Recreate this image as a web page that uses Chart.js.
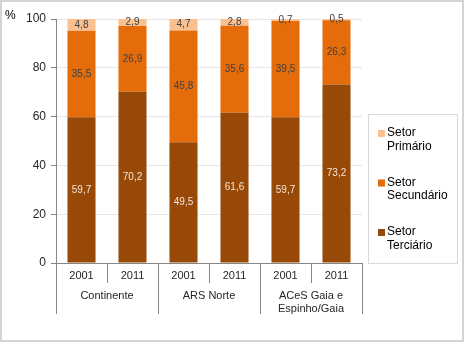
<!DOCTYPE html>
<html>
<head>
<meta charset="utf-8">
<script src="https://cdn.jsdelivr.net/npm/chart.js@4/dist/chart.umd.min.js"></script>
<style>
  html, body { margin: 0; padding: 0; background: #fff; }
  canvas { display: block; }
</style>
</head>
<body>
<canvas id="myChart" width="464" height="342"></canvas>
<script>
const years = ['2001', '2011', '2001', '2011', '2001', '2011'];
const groups = [['Continente'], ['ARS Norte'], ['ACeS Gaia e', 'Espinho/Gaia']];
const terciario = [59.7, 70.2, 49.5, 61.6, 59.7, 73.2];
const secundario = [35.5, 26.9, 45.8, 35.6, 39.5, 26.3];
const primario = [4.8, 2.9, 4.7, 2.8, 0.7, 0.5];
const yTicks = [0, 20, 40, 60, 80, 100];

const FONT = "'Liberation Sans', Arial, sans-serif";
const fmt = v => v.toFixed(1).replace('.', ',');

// datasets bottom -> top
const series = [
  { label: 'Setor Terciário', data: terciario, color: '#984807', text: '#f6e4d8' },
  { label: 'Setor Secundário', data: secundario, color: '#e46c0a', text: '#404040' },
  { label: 'Setor Primário', data: primario, color: '#fac090', text: '#404040' }
];

const extras = {
  id: 'extras',
  beforeDraw(chart) {
    const ctx = chart.ctx;
    ctx.save();
    ctx.fillStyle = '#fff';
    ctx.fillRect(0, 0, chart.width, chart.height);
    ctx.restore();
  },
  afterDraw(chart) {
    const ctx = chart.ctx;
    const x = chart.scales.x;
    const area = chart.chartArea;
    ctx.save();

    // value labels inside the segments
    ctx.font = '10px ' + FONT;
    ctx.textAlign = 'center';
    ctx.textBaseline = 'middle';
    series.forEach((s, i) => {
      const meta = chart.getDatasetMeta(i);
      meta.data.forEach((bar, j) => {
        const c = bar.getCenterPoint();
        ctx.fillStyle = s.text;
        ctx.fillText(fmt(s.data[j]), c.x, c.y);
      });
    });

    // category dividers under the axis
    ctx.strokeStyle = '#868686';
    ctx.lineWidth = 1;
    const step = (x.right - x.left) / years.length;
    for (let i = 0; i <= years.length; i++) {
      const px = Math.round(x.left + i * step) + 0.5;
      const len = i % 2 === 0 ? 51 : 20;
      ctx.beginPath();
      ctx.moveTo(px, area.bottom);
      ctx.lineTo(px, area.bottom + len);
      ctx.stroke();
    }

    // group names
    ctx.fillStyle = '#262626';
    ctx.font = '11px ' + FONT;
    groups.forEach((g, i) => {
      const cx = x.left + (i * 2 + 1) * step;
      g.forEach((line, k) => ctx.fillText(line, cx, area.bottom + 33 + k * 13));
    });

    // unit
    ctx.font = '12px ' + FONT;
    ctx.textAlign = 'left';
    ctx.fillStyle = '#000';
    ctx.fillText('%', 5, 16);

    // legend box
    ctx.strokeStyle = '#d9d9d9';
    ctx.strokeRect(368.5, 114.5, 89, 149);
    ctx.font = '12px ' + FONT;
    [...series].reverse().forEach((s, i) => {
      const y0 = 133 + i * 49.5;
      ctx.fillStyle = s.color;
      ctx.fillRect(378, y0 - 3, 7, 7);
      ctx.fillStyle = '#000';
      s.label.split(' ').forEach((w, k) => ctx.fillText(w, 387, y0 + k * 13.5));
    });

    // outer frame
    ctx.strokeStyle = '#d4d4d4';
    ctx.lineWidth = 2;
    ctx.strokeRect(1, 1, chart.width - 2, chart.height - 2);
    ctx.restore();
  }
};

new Chart(document.getElementById('myChart'), {
  type: 'bar',
  data: {
    labels: years,
    datasets: series.map(s => ({
      label: s.label,
      data: s.data,
      backgroundColor: s.color,
      borderWidth: 0,
      barPercentage: 0.55,
      categoryPercentage: 1
    }))
  },
  options: {
    responsive: false,
    animation: false,
    layout: { padding: { top: 19, right: 102, left: 0, bottom: 0 } },
    plugins: { legend: { display: false }, tooltip: { enabled: false } },
    scales: {
      x: {
        stacked: true,
        grid: { display: false, drawTicks: false },
        border: { color: '#868686' },
        ticks: { color: '#262626', font: { family: FONT, size: 11 }, padding: 6, maxRotation: 0 },
        afterFit: s => { s.height = 79; }
      },
      y: {
        stacked: true,
        min: 0,
        max: 100,
        afterBuildTicks: s => { s.ticks = yTicks.map(v => ({ value: v })); },
        grid: { color: '#e6e6e6', tickColor: '#868686', tickLength: 5 },
        border: { color: '#868686' },
        ticks: { color: '#262626', font: { family: FONT, size: 12 }, padding: 5 },
        afterFit: s => { s.width = 56; }
      }
    }
  },
  plugins: [extras]
});
</script>
</body>
</html>
